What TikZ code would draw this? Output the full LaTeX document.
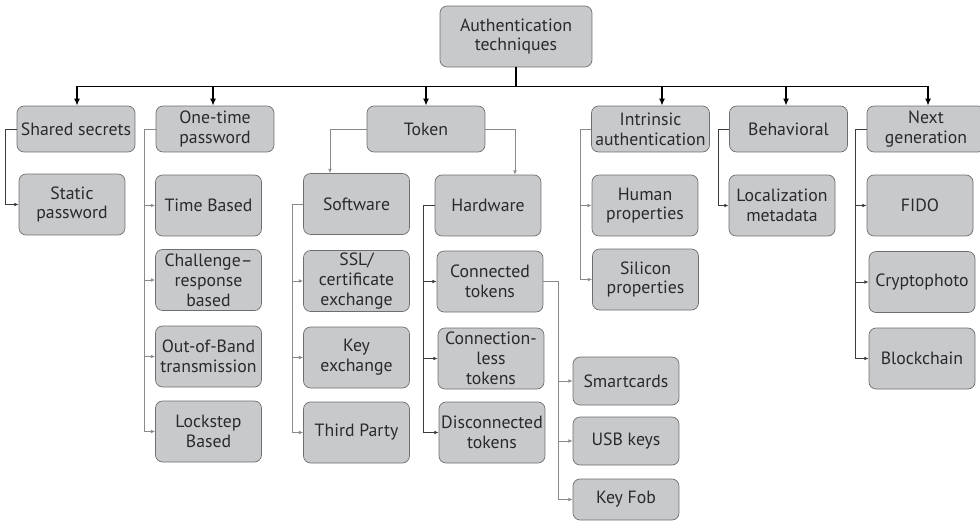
\documentclass[tikz,border=0pt]{standalone}
\usepackage{fontspec}
\setmainfont{PT Sans}
\usetikzlibrary{arrows.meta}

\definecolor{boxfill}{HTML}{C8C9CB}
\definecolor{boxline}{HTML}{6E6E70}
\definecolor{ink}{HTML}{2A2A2C}
\definecolor{wirelight}{HTML}{8A8A8C}
\definecolor{wiredark}{HTML}{3C3C3E}

\tikzset{
	box/.style={draw=boxline, fill=boxfill, rounded corners=4pt, align=center,
		inner sep=0pt, text=ink, font=\fontsize{10.1}{11.3}\selectfont},
	topbox/.style={box, minimum width=3.04cm, minimum height=1.22cm},
	headbox/.style={box, minimum width=2.36cm, minimum height=0.92cm},
	leafbox/.style={box, minimum width=2.12cm, minimum height=1.22cm},
	smallbox/.style={box, minimum width=2.12cm, minimum height=0.96cm},
	bus/.style={draw=black, line width=0.9pt, -{Latex[length=4pt,width=3.4pt]},
		to path={-- ++(0,19) -| (\tikztotarget)}},
	feed/.style={line width=0.4pt, -{Latex[length=2.4pt,width=2pt]},
		to path={-- ++(-11,0) |- (\tikztotarget)}},
	feedright/.style={line width=0.4pt, -{Latex[length=2.4pt,width=2pt]},
		to path={-- ++(15,0) |- (\tikztotarget)}},
	drop/.style={line width=0.4pt, -{Latex[length=2.4pt,width=2pt]},
		to path={-| (\tikztotarget)}},
	light/.style={draw=wirelight},
	dark/.style={draw=wiredark}
}

\begin{document}
\begin{tikzpicture}[x=0.02cm, y=-0.02cm]
	\useasboundingbox (0,0) rectangle (980,521);

	\node[topbox] (root) at (516,36.5) {Authentication\\techniques};

	\node[headbox] (shared) at (76,129) {Shared secrets};
	\node[headbox] (otp) at (215,129) {One-time\\password};
	\node[headbox] (token) at (426,129) {Token};
	\node[headbox] (intrinsic) at (650.5,129) {Intrinsic\\authentication};
	\node[headbox] (behavioral) at (788.5,129) {Behavioral};
	\node[headbox] (nextgen) at (926,129) {Next\\generation};

	\node[leafbox] (static) at (72,204.5) {Static\\password};

	\node[leafbox] (timebased) at (208.5,205.5) {Time Based};
	\node[leafbox] (challenge) at (208.5,280) {Challenge--\\response\\based};
	\node[leafbox] (outofband) at (208.5,356.5) {Out-of-Band\\transmission};
	\node[leafbox] (lockstep) at (208.5,431.5) {Lockstep\\Based};

	\node[leafbox] (software) at (356.5,204) {Software};
	\node[leafbox] (ssl) at (356.5,281) {SSL/\\certificate\\exchange};
	\node[leafbox] (keyex) at (356.5,357.5) {Key\\exchange};
	\node[leafbox] (third) at (356.5,432.5) {Third Party};

	\node[leafbox] (hardware) at (488,205.5) {Hardware};
	\node[leafbox] (connected) at (490,281.5) {Connected\\tokens};
	\node[leafbox] (connless) at (491,358.5) {Connection-\\less\\tokens};
	\node[leafbox] (disconn) at (492,432.5) {Disconnected\\tokens};

	\node[smallbox] (smart) at (626,381) {Smartcards};
	\node[smallbox] (usb) at (626,441) {USB keys};
	\node[smallbox, minimum height=0.82cm] (keyfob) at (626,499.5) {Key Fob};

	\node[leafbox] (human) at (645,205.5) {Human\\properties};
	\node[leafbox] (silicon) at (645.5,279.5) {Silicon\\properties};

	\node[leafbox] (local) at (782,205.5) {Localization\\metadata};

	\node[leafbox] (fido) at (920,205.5) {FIDO};
	\node[leafbox] (crypto) at (922,282) {Cryptophoto};
	\node[leafbox] (block) at (922,358.5) {Blockchain};

	\draw
		(root.south) edge[bus] ([xshift=0.02cm]shared.north)
		(root.south) edge[bus] ([xshift=-0.04cm]otp.north)
		(root.south) edge[bus] (token.north)
		(root.south) edge[bus] ([xshift=0.23cm]intrinsic.north)
		(root.south) edge[bus] ([xshift=-0.05cm]behavioral.north)
		(root.south) edge[bus] ([xshift=0.04cm]nextgen.north)

		(shared.west) edge[feed, dark] (static.west)

		(otp.west) edge[feed, light] (timebased.west)
		(otp.west) edge[feed, light] (challenge.west)
		(otp.west) edge[feed, light] (outofband.west)
		(otp.west) edge[feed, light] (lockstep.west)

		(token.west) edge[drop, light] ([xshift=-0.53cm]software.north)
		(token.east) edge[drop, light] ([xshift=0.54cm]hardware.north)

		(software.west) edge[feed, light] (ssl.west)
		(software.west) edge[feed, light] (keyex.west)
		(software.west) edge[feed, light] (third.west)

		(hardware.west) edge[feed, dark] (connected.west)
		(hardware.west) edge[feed, dark] (connless.west)
		(hardware.west) edge[feed, dark] (disconn.west)

		(connected.east) edge[feedright, light] (smart.west)
		(connected.east) edge[feedright, light] (usb.west)
		(connected.east) edge[feedright, light] (keyfob.west)

		(intrinsic.west) edge[feed, light] (human.west)
		(intrinsic.west) edge[feed, light] (silicon.west)

		(behavioral.west) edge[feed, dark] (local.west)

		(nextgen.west) edge[feed, dark] (fido.west)
		(nextgen.west) edge[feed, dark] (crypto.west)
		(nextgen.west) edge[feed, dark] (block.west)
	;
\end{tikzpicture}
\end{document}
